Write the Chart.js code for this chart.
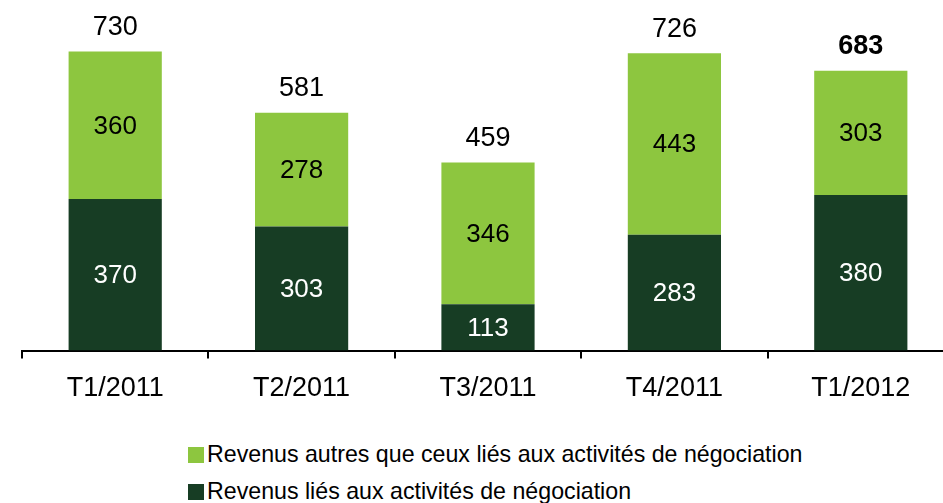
<!DOCTYPE html>
<html>
<head>
<meta charset="utf-8">
<script src="https://cdn.jsdelivr.net/npm/chart.js@4.4.0/dist/chart.umd.min.js"></script>
<style>
    html, body { margin: 0; padding: 0; background: #fff; overflow: hidden; }
    #wrapper { position: relative; width: 943px; height: 503px; overflow: hidden; }
    #box { position: absolute; left: 0; top: 0; width: 960px; height: 419px; }
    .legenda { position: absolute; left: 188px; font-family: "Liberation Sans", Arial, sans-serif; font-size: 23.2px; color: #000; white-space: nowrap; }
    .legenda span { display: inline-block; width: 16px; height: 16px; margin-right: 3px; vertical-align: -1px; }
</style>
</head>
<body>
<div id="wrapper">
    <div id="box"><canvas id="grafico"></canvas></div>
    <div class="legenda" style="top:441px"><span style="background:#8DC63F"></span>Revenus autres que ceux liés aux activités de négociation</div>
    <div class="legenda" style="top:478px"><span style="background:#173D24"></span>Revenus liés aux activités de négociation</div>
</div>
<script>
"use strict"

const trimestri = ["T1/2011", "T2/2011", "T3/2011", "T4/2011", "T1/2012"];
const negoziazione = [370, 303, 113, 283, 380];
const altri = [360, 278, 346, 443, 303];
const totali = [730, 581, 459, 726, 683];

const verdeChiaro = "#8DC63F";
const verdeScuro = "#173D24";
const font = "Liberation Sans, Arial, sans-serif";

// etichette dentro le barre e totali sopra
const etichette = {
    id: "etichette",
    afterDatasetsDraw(chart) {
        let ctx = chart.ctx;
        ctx.save();
        ctx.textAlign = "center";
        ctx.textBaseline = "middle";
        chart.data.datasets.forEach(function (ds, i) {
            let meta = chart.getDatasetMeta(i);
            meta.data.forEach(function (bar, j) {
                ctx.font = "26px " + font;
                ctx.fillStyle = i == 0 ? "#fff" : "#000";
                ctx.fillText(ds.data[j], bar.x, (bar.y + bar.base) / 2 + 1);
            });
        });
        let top = chart.getDatasetMeta(1);
        top.data.forEach(function (bar, j) {
            ctx.font = (j == totali.length - 1 ? "bold " : "") + "27px " + font;
            ctx.fillStyle = "#000";
            ctx.fillText(totali[j], bar.x, bar.y - 24);
        });
        ctx.restore();
    }
};

let chart = new Chart(document.getElementById("grafico"), {
    type: "bar",
    data: {
        labels: trimestri,
        datasets: [{
            label: "Revenus liés aux activités de négociation",
            data: negoziazione,
            backgroundColor: verdeScuro
        }, {
            label: "Revenus autres que ceux liés aux activités de négociation",
            data: altri,
            backgroundColor: verdeChiaro
        }]
    },
    options: {
        responsive: true,
        maintainAspectRatio: false,
        animation: false,
        layout: { padding: { left: 22, right: 6, top: 0, bottom: 0 } },
        plugins: {
            legend: { display: false },
            tooltip: { enabled: false }
        },
        datasets: {
            bar: { categoryPercentage: 0.5, barPercentage: 1 }
        },
        scales: {
            x: {
                stacked: true,
                grid: { drawOnChartArea: false, drawTicks: true, tickLength: 8, color: "#000", lineWidth: 2 },
                border: { color: "#000", width: 2 },
                ticks: { color: "#000", font: { family: font, size: 27 }, padding: 14 }
            },
            y: {
                stacked: true,
                display: false,
                min: 0,
                max: 856
            }
        }
    },
    plugins: [etichette]
});
</script>
</body>
</html>
